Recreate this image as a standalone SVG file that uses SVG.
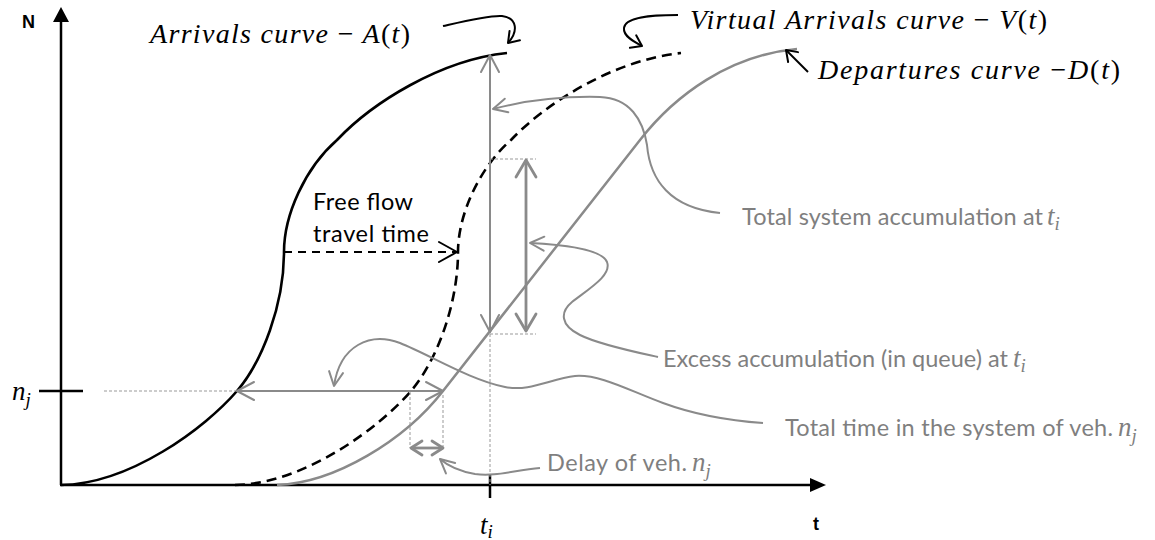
<svg xmlns="http://www.w3.org/2000/svg" width="1155" height="540" viewBox="0 0 1155 540">
<style>
.ax{stroke:#000;stroke-width:2.5;fill:none}
.ka{stroke:#000;stroke-width:2.6;fill:none}
.kd{stroke:#000;stroke-width:2.6;fill:none;stroke-dasharray:10 6}
.gc{stroke:#8a8a8a;stroke-width:2.5;fill:none}
.gl{stroke:#8a8a8a;stroke-width:2;fill:none}
.gt{stroke:#8a8a8a;stroke-width:2.8;fill:none}
.dot{stroke:#999;stroke-width:1;fill:none;stroke-dasharray:3 2}
.lbl{font-family:Lato,"Liberation Sans",sans-serif;font-size:23.5px;fill:#7f7f7f}
.blk{font-family:Lato,"Liberation Sans",sans-serif;font-size:23.5px;fill:#000}
.m{font-family:"Liberation Serif","Times New Roman",serif;font-style:italic;font-size:27px}
.mb{font-family:"Liberation Serif","Times New Roman",serif;font-style:italic;font-size:28px}
.s{font-family:"Liberation Serif","Times New Roman",serif;font-style:italic;font-size:19px}
.up{font-style:normal}
.axl{font-family:"Liberation Sans",Arial,sans-serif;font-weight:bold;font-size:18px;fill:#000}
</style>
<defs>
<marker id="ah-g" markerUnits="userSpaceOnUse" markerWidth="30" markerHeight="30" viewBox="-25 -15 30 30" refX="0" refY="0" orient="auto-start-reverse" overflow="visible"><path d="M-17,-9 L0,0 L-17,9" fill="none" stroke="#8a8a8a" stroke-width="2" stroke-linecap="round" stroke-linejoin="round"/></marker>
<marker id="ah-gs" markerUnits="userSpaceOnUse" markerWidth="30" markerHeight="30" viewBox="-25 -15 30 30" refX="0" refY="0" orient="auto" overflow="visible"><path d="M-14,-7 L0,0 L-14,7" fill="none" stroke="#8a8a8a" stroke-width="2" stroke-linecap="round" stroke-linejoin="round"/></marker>
<marker id="ah-gt" markerUnits="userSpaceOnUse" markerWidth="30" markerHeight="30" viewBox="-25 -15 30 30" refX="0" refY="0" orient="auto-start-reverse" overflow="visible"><path d="M-17,-10 L0,0 L-17,10" fill="none" stroke="#8a8a8a" stroke-width="2.8" stroke-linecap="round" stroke-linejoin="round"/></marker>
<marker id="ah-gd" markerUnits="userSpaceOnUse" markerWidth="30" markerHeight="30" viewBox="-25 -15 30 30" refX="0" refY="0" orient="auto-start-reverse" overflow="visible"><path d="M-11,-7 L0,0 L-11,7" fill="none" stroke="#8a8a8a" stroke-width="2.8" stroke-linecap="round" stroke-linejoin="round"/></marker>
<marker id="ah-k" markerUnits="userSpaceOnUse" markerWidth="30" markerHeight="30" viewBox="-25 -15 30 30" refX="0" refY="0" orient="auto" overflow="visible"><path d="M-18,-10 L0,0 L-18,10" fill="none" stroke="#000" stroke-width="2" stroke-linecap="round" stroke-linejoin="round"/></marker>
<marker id="ah-ks" markerUnits="userSpaceOnUse" markerWidth="30" markerHeight="30" viewBox="-25 -15 30 30" refX="0" refY="0" orient="auto" overflow="visible"><path d="M-10,-7 L0,0 L-10,7" fill="none" stroke="#000" stroke-width="2" stroke-linecap="round" stroke-linejoin="round"/></marker>
</defs>
<rect width="1155" height="540" fill="#fff"/>

<g id="axes">
<line class="ax" x1="61" y1="485" x2="61" y2="20"/>
<polygon points="61,7 53,22 69,22" fill="#000"/>
<line class="ax" x1="60" y1="485" x2="812" y2="485"/>
<polygon points="826,485 810,478 810,492" fill="#000"/>
<line class="ax" x1="39" y1="391" x2="83" y2="391"/>
<line class="ax" x1="490" y1="474" x2="490" y2="498"/>
<text class="axl" x="22" y="28">N</text>
<text class="axl" x="813" y="530">t</text>
<text id="nj" x="12" y="400" fill="#000"><tspan class="m">n</tspan><tspan class="s" dy="6">j</tspan></text>
<text id="ti" x="480" y="534" fill="#000"><tspan class="m">t</tspan><tspan class="s" dy="4">i</tspan></text>
</g>

<g id="curve-A">
<path class="ka" d="M61,485 C130,484 205,428 237,391 C262,362 284,305 284,252 C284,215 305,168 337,140 C372,103 440,60 507,53"/>
</g>
<g id="curve-V">
<path class="kd" transform="translate(174,0)" d="M61,485 C130,484 205,428 237,391 C262,362 284,305 284,252 C284,215 305,168 337,140 C372,103 440,60 507,53"/>
</g>
<g id="curve-D">
<path class="gc" d="M277,485 C335,483 405,440 443,391 L640,140 C675,95 730,55 797,49"/>
</g>

<g id="connectors">
<line class="dot" x1="104" y1="391" x2="237" y2="391"/>
<line class="dot" x1="490" y1="334" x2="490" y2="485"/>
<line class="dot" x1="490" y1="159" x2="536" y2="159"/>
<line class="dot" x1="490" y1="334" x2="536" y2="334"/>
<line class="dot" x1="410" y1="392" x2="410" y2="448"/>
<line class="dot" x1="443" y1="395" x2="443" y2="448"/>
<line class="gl" x1="490" y1="332" x2="490" y2="55" marker-start="url(#ah-g)" marker-end="url(#ah-g)"/>
<line class="gt" x1="526" y1="331" x2="526" y2="160" marker-start="url(#ah-gt)" marker-end="url(#ah-gt)"/>
<line class="gl" x1="237" y1="391" x2="443" y2="391" marker-start="url(#ah-g)" marker-end="url(#ah-g)"/>
<line class="gt" x1="411" y1="448" x2="443" y2="448" marker-start="url(#ah-gd)" marker-end="url(#ah-gd)"/>
<path d="M284,252 L457,252" stroke="#000" stroke-width="2" stroke-dasharray="8 6" fill="none" marker-end="url(#ah-k)"/>
<path class="gl" d="M720,213 C670,208 650,180 647,145 C643,120 630,98 600,97 C560,96 520,102 493,109" marker-end="url(#ah-gs)"/>
<path class="gl" d="M658,357 C640,353 600,345 580,335 C560,325 560,312 572,302 C590,288 612,275 607,262 C602,250 570,245 530,243" marker-end="url(#ah-gs)"/>
<path class="gl" d="M763,423 C720,420 690,413 663,403 C630,391 600,374 575,376 C550,379 530,392 505,387 C470,380 430,355 400,343 C370,332 340,345 334,386" marker-end="url(#ah-gs)"/>
<path class="gl" d="M540,468 C515,470 495,477 475,474 C458,471 448,466 440,459" marker-end="url(#ah-gs)"/>
<path class="ka" style="stroke-width:2" d="M443,26 C465,21 490,15 502,16 C518,18 518,32 508,43" marker-end="url(#ah-ks)"/>
<path class="ka" style="stroke-width:2" d="M678,15 C650,15 625,17 624,28 C623,36 634,42 642,46" marker-end="url(#ah-ks)"/>
<path class="ka" style="stroke-width:2" d="M808,72 L786,50" marker-end="url(#ah-ks)"/>
</g>

<g id="label-A"><text x="150" y="43" fill="#000" class="mb" textLength="260">Arrivals curve <tspan class="up">−</tspan> A<tspan class="up">(</tspan>t<tspan class="up">)</tspan></text></g>
<g id="label-V"><text x="690" y="29" fill="#000" class="mb" textLength="357">Virtual Arrivals curve <tspan class="up">−</tspan> V<tspan class="up">(</tspan>t<tspan class="up">)</tspan></text></g>
<g id="label-D"><text x="818" y="79" fill="#000" class="mb" textLength="302">Departures curve  <tspan class="up">−</tspan>D<tspan class="up">(</tspan>t<tspan class="up">)</tspan></text></g>

<g id="label-freeflow">
<text class="blk" x="313" y="210" textLength="100">Free flow</text>
<text class="blk" x="313" y="242" textLength="116">travel time</text>
</g>
<g id="label-total-acc"><text class="lbl" x="742" y="225"><tspan textLength="301">Total system accumulation at</tspan><tspan class="m" x="1047">t</tspan><tspan class="s" dy="5">i</tspan></text></g>
<g id="label-excess"><text class="lbl" x="663" y="367"><tspan textLength="345">Excess accumulation (in queue) at</tspan><tspan class="m" x="1013">t</tspan><tspan class="s" dy="5">i</tspan></text></g>
<g id="label-total-time"><text class="lbl" x="785" y="436"><tspan textLength="328">Total time in the system of veh.</tspan><tspan class="m" x="1118">n</tspan><tspan class="s" dy="6">j</tspan></text></g>
<g id="label-delay"><text class="lbl" x="547" y="471"><tspan textLength="140">Delay of veh.</tspan><tspan class="m" x="692">n</tspan><tspan class="s" dy="6">j</tspan></text></g>
</svg>
